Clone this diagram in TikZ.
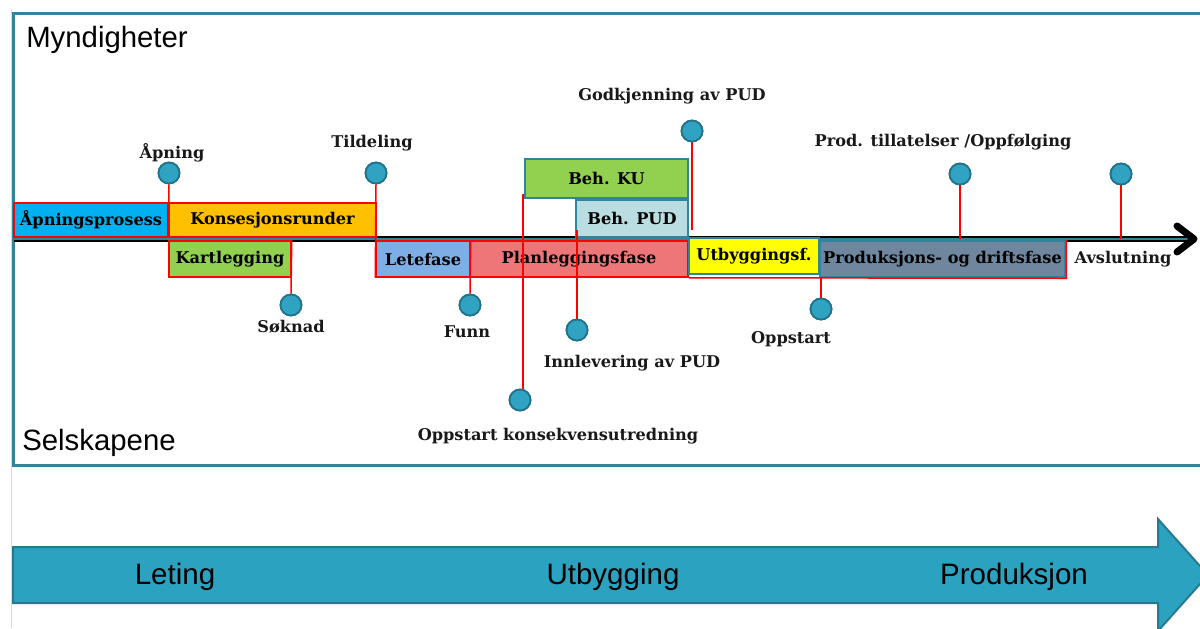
\documentclass[tikz,border=0pt]{standalone}
\usepackage{fontspec}
\setmainfont{DejaVu Serif}
\setsansfont{Liberation Sans}
\usepackage{tikz}
\usetikzlibrary{positioning, calc}
\definecolor{ramme}{HTML}{31849B}
\definecolor{punktfyll}{HTML}{2FA3C1}
\definecolor{punktkant}{HTML}{22728A}
\definecolor{pilfyll}{HTML}{2CA2C1}
\definecolor{pilkant}{HTML}{267A90}
\definecolor{apnblaa}{HTML}{00B0F0}
\definecolor{oransje}{HTML}{FFC000}
\definecolor{gronn}{HTML}{92D050}
\definecolor{leteblaa}{HTML}{7DAEE6}
\definecolor{rosa}{HTML}{EE7578}
\definecolor{lysblaa}{HTML}{B9DDE1}
\definecolor{gul}{HTML}{FFFF00}
\definecolor{skifer}{HTML}{6F879E}
\newcommand\fasefont{\fontsize{9.2}{10}\selectfont}

\begin{document}
\begin{tikzpicture}[x=0.2mm, y=-0.2mm,
    fase/.style={draw=red, line width=0.3mm, inner sep=0pt, font=\bfseries\fasefont},
    behfase/.style={fase, draw=ramme, line width=0.5mm},
    punkt/.style={circle, fill=punktfyll, draw=punktkant, line width=0.35mm,
                  minimum size=4.2mm, inner sep=0pt},
    merke/.style={font=\bfseries\fasefont, text=black!90, inner sep=0pt},
    strek/.style={red, line width=0.3mm},
    aktor/.style={font=\sffamily\fontsize{16.7}{19}\selectfont, inner sep=0pt},
    hovedfase/.style={font=\sffamily\fontsize{16.8}{19}\selectfont, inner sep=0pt}
  ]
  \useasboundingbox (0,0) rectangle (1200,628);

  % Ramme
  \draw[black!15, line width=0.2mm] (11,10) -- (11,628);
  \draw[ramme, line width=0.6mm] (13,13) rectangle (1215,465);
  \node[aktor] (myn) at (107,40)  {Myndigheter};
  \node[aktor] (sel) at (99,443)  {Selskapene};

  % Tidslinje
  \coordinate (tlA) at (14,239);
  \coordinate (tlB) at (1194,239);
  \draw[line width=1.3mm] (tlA) -- (tlB);
  \draw[ramme, line width=0.55mm] (tlA) -- (tlB);
  \draw[line width=1.4mm, line cap=round, line join=round]
    ($(tlB)+(-17,-13)$) -- (tlB) -- ($(tlB)+(-17,13)$);

  % Faser
  \node[fase, fill=apnblaa, minimum width=30.8mm, minimum height=6.8mm] (apn) at (91,220) {Åpningsprosess};
  \node[fase, fill=oransje, minimum width=41.4mm, minimum height=6.8mm] (kons) at (272.5,220) {Konsesjonsrunder};
  \node[fase, fill=gronn, minimum width=24.4mm, minimum height=7.2mm] (kart) at (230,259) {Kartlegging};
  \node[fase, fill=leteblaa, minimum width=18.8mm, minimum height=7.2mm] (lete) at (423,259) {Letefase};
  \node[fase, fill=rosa, minimum width=43.6mm, minimum height=7.2mm] (plan) at (579,259) {Planleggingsfase};
  \node[behfase, fill=gronn, minimum width=32.6mm, minimum height=7.8mm] (behku) at (606.5,178.5) {Beh. KU};
  \node[behfase, fill=lysblaa, minimum width=22.4mm, minimum height=7.4mm] (behpud) at (632,218.5) {Beh. PUD};
  \node[behfase, fill=gul, minimum width=26mm, minimum height=7.2mm] (utb) at (754,256) {Utbyggingsf.};
  \node[behfase, fill=skifer, minimum width=49mm, minimum height=7.2mm] (prod) at (942.5,259) {Produksjons- og driftsfase};
  \draw[strek] (plan.south east) -- (prod.south east) -- (prod.north east);

  % Milepaeler
  \node[punkt] (mApn)   at (169,173)  {};
  \node[punkt] (mTild)  at (376,173)  {};
  \node[punkt] (mSok)   at (291,305)  {};
  \node[punkt] (mFunn)  at (470,305)  {};
  \node[punkt] (mOku)   at (520,400)  {};
  \node[punkt] (mInn)   at (577,330)  {};
  \node[punkt] (mGodk)  at (692,131)  {};
  \node[punkt] (mProdT) at (960,174)  {};
  \node[punkt] (mAvsl)  at (1121,174) {};
  \node[punkt] (mOpp)   at (821,309)  {};

  \coordinate (okuTopp)  at (523,194);
  \coordinate (innTopp)  at (577,230);
  \coordinate (godkBunn) at (692,230);

  \draw[strek] (mApn.south) -- (kons.south west);
  \draw[strek] (mTild.south) -- (lete.south west);
  \draw[strek] (kart.north east) -- (mSok.north);
  \draw[strek] (lete.north east) -- (mFunn.north);
  \draw[strek] (mOku.north -| okuTopp) -- (okuTopp);
  \draw[strek] (mInn.north) -- (innTopp);
  \draw[strek] (mGodk.south) -- (godkBunn);
  \draw[strek] (mProdT.south) -- (mProdT |- tlA);
  \draw[strek] (mAvsl.south) -- (mAvsl |- tlA);
  \draw[strek] (mOpp |- prod.south) -- (mOpp.north);
  % punktene over strekene
  \foreach \m in {mApn, mTild, mSok, mFunn, mOku, mInn, mGodk, mProdT, mAvsl, mOpp}
    \node[punkt] at (\m) {};

  % Merketekster
  \node[merke] (lApn)   at (172,153)  {Åpning};
  \node[merke] (lTild)  at (372,143)  {Tildeling};
  \node[merke] (lSok)   at (291,327)  {Søknad};
  \node[merke] (lFunn)  at (467,332)  {Funn};
  \node[merke] (lOku)   at (558,436)  {Oppstart konsekvensutredning};
  \node[merke] (lInn)   at (632,363)  {Innlevering av PUD};
  \node[merke] (lGodk)  at (672,96)   {Godkjenning av PUD};
  \node[merke] (lProdT) at (943,142)  {Prod. tillatelser /Oppfølging};
  \node[merke] (lAvsl)  at (1123,259) {Avslutning};
  \node[merke] (lOpp)   at (791,339)  {Oppstart};

  % Hovedfaser
  \fill[pilfyll, draw=pilkant, line width=0.4mm]
    (13,547) -- (1158,547) -- (1158,519) -- (1208,575) -- (1158,631)
    -- (1158,603) -- (13,603) -- cycle;
  \node[hovedfase] (leting) at (175,577)  {Leting};
  \node[hovedfase] (utbygg) at (613,577)  {Utbygging};
  \node[hovedfase] (produk) at (1014,577) {Produksjon};
\end{tikzpicture}
\end{document}
